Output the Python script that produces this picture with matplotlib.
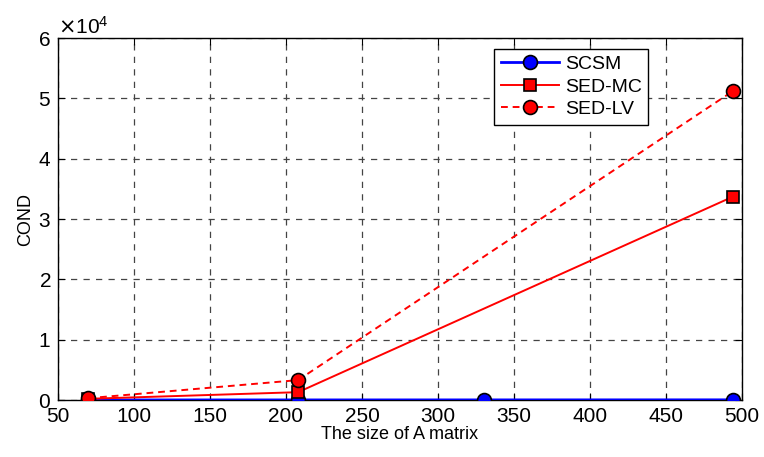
import matplotlib
matplotlib.use("Agg")
import matplotlib.pyplot as plt
from matplotlib.ticker import ScalarFormatter

# =========================
# Data
# =========================
scsm_x = [70, 208, 330, 494]
scsm_y = [10, 15, 20, 30]

sedmc_x = [70, 208, 494]
sedmc_y = [200, 1300, 33700]

sedlv_x = [70, 208, 494]
sedlv_y = [300, 3300, 51200]

x_ticks = [50, 100, 150, 200, 250, 300, 350, 400, 450, 500]
y_ticks = [0, 10000, 20000, 30000, 40000, 50000, 60000]

plt.rcParams["font.family"] = ["Liberation Sans", "DejaVu Sans"]

fig = plt.figure(figsize=(7.64, 4.57), dpi=100)
ax = fig.add_axes([0.0759, 0.1247, 0.8953, 0.7921])

ax.plot(scsm_x, scsm_y, color="#0000ff", linewidth=2.0, marker="o",
        markersize=10, markerfacecolor="#0000ff", markeredgecolor="black",
        markeredgewidth=1.2, label="SCSM", zorder=3)
ax.plot(sedmc_x, sedmc_y, color="#ff0000", linewidth=1.4, marker="s",
        markersize=8.5, markerfacecolor="#ff0000", markeredgecolor="black",
        markeredgewidth=1.2, label="SED-MC", zorder=4)
ax.plot(sedlv_x, sedlv_y, color="#ff0000", linewidth=1.4, linestyle=(0, (3.5, 2.5)),
        marker="o", markersize=10, markerfacecolor="#ff0000",
        markeredgecolor="black", markeredgewidth=1.2, label="SED-LV", zorder=5)

ax.set_xlim(50, 500)
ax.set_ylim(0, 60000)
ax.set_xticks(x_ticks)
ax.set_yticks(y_ticks)

fmt = ScalarFormatter(useMathText=True)
fmt.set_powerlimits((0, 0))
ax.yaxis.set_major_formatter(fmt)
ax.yaxis.get_offset_text().set_fontsize(15)
ax.yaxis.get_offset_text().set_x(0.0)

ax.grid(True, color="#444444", linestyle=(0, (5, 5)), linewidth=0.9)
ax.tick_params(axis="both", direction="in", top=True, right=True,
               labelsize=15, length=5)
ax.tick_params(axis="y", pad=5)
ax.tick_params(axis="x", pad=5)
for s in ax.spines.values():
    s.set_linewidth(1.0)
    s.set_color("black")

ax.set_xlabel("The size of A matrix", fontsize=13, labelpad=0)
ax.set_ylabel("COND", fontsize=13, labelpad=3)

ax.legend(loc="upper left", bbox_to_anchor=(0.637, 0.97), fontsize=14,
          frameon=True, fancybox=False, edgecolor="black", framealpha=1,
          handlelength=3.0, handletextpad=0.3, borderpad=0.35,
          labelspacing=0.25, borderaxespad=0)

fig.savefig("out.png", dpi=100)
